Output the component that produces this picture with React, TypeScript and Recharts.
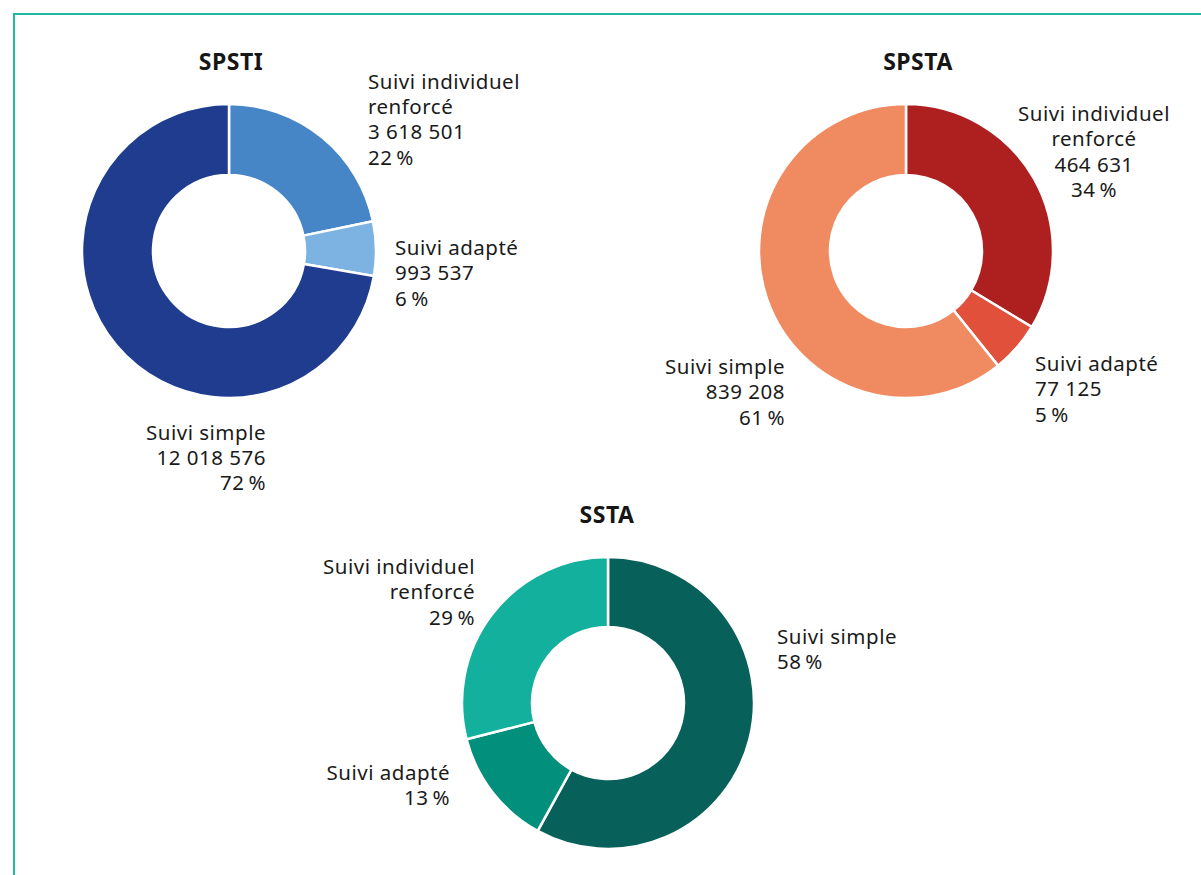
import { Pie, PieChart } from "recharts";

const spstiNames = ["Suivi individuel\nrenforcé", "Suivi adapté", "Suivi simple"];
const spstiValues = [3618501, 993537, 12018576];
const spstiPercents = [22, 6, 72];

const spstaNames = ["Suivi individuel\nrenforcé", "Suivi adapté", "Suivi simple"];
const spstaValues = [464631, 77125, 839208];
const spstaPercents = [34, 5, 61];

// SSTA: only shares are published
const sstaNames = ["Suivi simple", "Suivi adapté", "Suivi individuel\nrenforcé"];
const sstaPercents = [58, 13, 29];

const FONT = "'Noto Sans', sans-serif";
const LINE = 25.4;

type LabelPos = { dx: number; dy: number; anchor: "start" | "middle" | "end" };

// label anchors relative to the donut centre, first baseline
const spstiLabelPos: LabelPos[] = [
  { dx: 139, dy: -162.5, anchor: "start" },
  { dx: 166, dy: 4, anchor: "start" },
  { dx: 37, dy: 188.5, anchor: "end" },
];
const spstaLabelPos: LabelPos[] = [
  { dx: 188, dy: -130, anchor: "middle" },
  { dx: 129, dy: 120, anchor: "start" },
  { dx: -121, dy: 123, anchor: "end" },
];
const sstaLabelPos: LabelPos[] = [
  { dx: 169, dy: -59, anchor: "start" },
  { dx: -158, dy: 77, anchor: "end" },
  { dx: -133, dy: -129, anchor: "end" },
];

const fmt = (v: number) => String(v).replace(/\B(?=(\d{3})+(?!\d))/g, "\u00a0");

const spstiData = spstiNames.map((name, i) => ({
  name,
  value: spstiValues[i],
  lines: [...name.split("\n"), fmt(spstiValues[i]), `${spstiPercents[i]}\u202f%`],
  fill: ["#4686c6", "#7db3e2", "#1f3c8e"][i],
}));
const spstaData = spstaNames.map((name, i) => ({
  name,
  value: spstaValues[i],
  lines: [...name.split("\n"), fmt(spstaValues[i]), `${spstaPercents[i]}\u202f%`],
  fill: ["#ae1f20", "#e0503a", "#f08b61"][i],
}));
const sstaData = sstaNames.map((name, i) => ({
  name,
  value: sstaPercents[i],
  lines: [...name.split("\n"), `${sstaPercents[i]}\u202f%`],
  fill: ["#07605a", "#028f7b", "#12b09d"][i],
}));

function makeLabel(pos: LabelPos[]) {
  return (props: any) => {
    const p = pos[props.index];
    const lines: string[] = props.payload?.lines ?? props.lines ?? [];
    return (
      <text
        x={props.cx + p.dx}
        y={props.cy + p.dy}
        textAnchor={p.anchor}
        fill="#1a1a1a"
        fontSize={20.5}
        letterSpacing={0.5}
        fontFamily={FONT}
      >
        {lines.map((l, i) => (
          <tspan key={i} x={props.cx + p.dx} dy={i === 0 ? 0 : LINE}>
            {l}
          </tspan>
        ))}
      </text>
    );
  };
}

const titleStyle = { fontSize: 23, fontWeight: 700, fontFamily: FONT, fill: "#161616", letterSpacing: 0.5 };

export default function App() {
  return (
    <div style={{ position: "absolute", left: 0, top: 0, width: 1201, height: 875, overflow: "hidden", background: "#fff" }}>
      <div
        style={{
          position: "absolute",
          left: 13,
          top: 13,
          width: 1400,
          height: 1000,
          borderTop: "2px solid #1fb9a0",
          borderLeft: "2px solid #1fb9a0",
        }}
      />
      <div style={{ position: "absolute", left: 0, top: 0 }}>
        <PieChart width={1201} height={875} margin={{ top: 0, right: 0, bottom: 0, left: 0 }}>
          <text x={231} y={70} textAnchor="middle" {...titleStyle}>SPSTI</text>
          <text x={918} y={70} textAnchor="middle" {...titleStyle}>SPSTA</text>
          <text x={607} y={523} textAnchor="middle" {...titleStyle}>SSTA</text>
          <Pie
            data={spstiData}
            dataKey="value"
            nameKey="name"
            cx={229}
            cy={251}
            innerRadius={76}
            outerRadius={147}
            startAngle={90}
            endAngle={-270}
            stroke="#fff"
            strokeWidth={2.5}
            label={makeLabel(spstiLabelPos)}
            labelLine={false}
            isAnimationActive={false}
          />
          <Pie
            data={spstaData}
            dataKey="value"
            nameKey="name"
            cx={906}
            cy={251}
            innerRadius={76}
            outerRadius={147}
            startAngle={90}
            endAngle={-270}
            stroke="#fff"
            strokeWidth={2.5}
            label={makeLabel(spstaLabelPos)}
            labelLine={false}
            isAnimationActive={false}
          />
          <Pie
            data={sstaData}
            dataKey="value"
            nameKey="name"
            cx={608}
            cy={703}
            innerRadius={76}
            outerRadius={146}
            startAngle={90}
            endAngle={-270}
            stroke="#fff"
            strokeWidth={2.5}
            label={makeLabel(sstaLabelPos)}
            labelLine={false}
            isAnimationActive={false}
          />
        </PieChart>
      </div>
    </div>
  );
}
